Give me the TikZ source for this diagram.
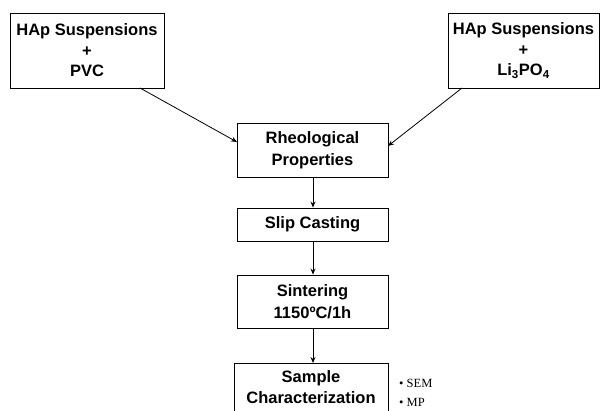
\documentclass[tikz,border=0pt]{standalone}
\usepackage{fontspec}
\setmainfont{Liberation Sans}
\newfontfamily\serifsm{Liberation Serif}
\usetikzlibrary{arrows.meta}
\begin{document}
\begin{tikzpicture}[x=1pt,y=-1pt,
  box/.style={draw, line width=0.9pt, inner sep=0pt, align=center, font=\fontsize{16.5}{21.5}\selectfont\bfseries},
  arr/.style={line width=0.8pt, -{Stealth[length=6pt,width=5pt]}}]
\useasboundingbox (0,0) rectangle (600,411);
\node[box, minimum width=154pt, minimum height=75pt] (a) at (87,50.5) {HAp Suspensions\\[-1pt]+\\[-1pt]PVC};
\node[box, minimum width=151pt, minimum height=75pt] (b) at (523.5,50.5) {HAp Suspensions\\[-1pt]+\\[-1pt]Li\textsubscript{3}PO\textsubscript{4}};
\node[box, minimum width=151pt, minimum height=54pt] (c) at (312.5,150) {Rheological\\Properties};
\node[box, minimum width=151pt, minimum height=33pt] (d) at (312.5,224.5) {Slip Casting};
\node[box, minimum width=151pt, minimum height=53pt] (e) at (312.5,301.5) {Sintering\\1150ºC/1h};
\node[box, minimum width=154pt, minimum height=60pt, anchor=north] (f) at (311,363) {};
\node[box, draw=none, anchor=north] (ft) at (311,370) {Sample\\Characterization};
\node[anchor=west, align=left, font=\serifsm\fontsize{12.5}{19}\selectfont, inner sep=0pt] (g) at (399,393) {\textbullet\ SEM\\\textbullet\ MP};
\coordinate (a1) at (140,88);
\coordinate (c1) at (237,142);
\coordinate (b1) at (462,88);
\coordinate (c2) at (388,146);
\draw[arr] (a1) -- (c1);
\draw[arr] (b1) -- (c2);
\draw[arr] (c.south -| 313,0) -- (d.north -| 313,0);
\draw[arr] (d.south -| 313,0) -- (e.north -| 313,0);
\draw[arr] (e.south -| 313,0) -- (f.north -| 313,0);
\end{tikzpicture}
\end{document}
